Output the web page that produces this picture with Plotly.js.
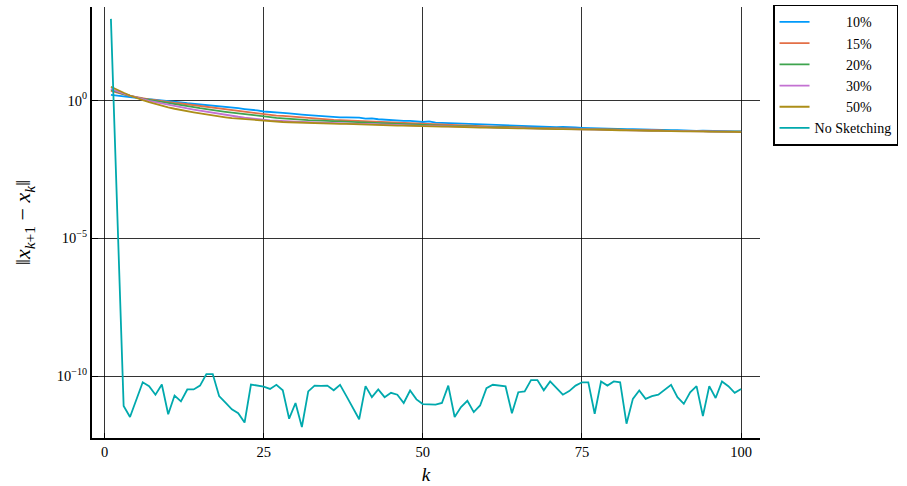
<!DOCTYPE html>
<html>
<head>
<meta charset="utf-8">
<script src="https://cdn.plot.ly/plotly-3.0.1.min.js"></script>
<style>body{margin:0;padding:0;background:#fff}</style>
</head>
<body>
<div id="chart" style="width:907px;height:486px"></div>
<script>
// iterations k = 1..100
const iterations = Array.from({length: 100}, (_, i) => i + 1);

// log10 of ||x_{k+1} - x_k||
const log10_sketch10 = [
 0.20,0.17,0.14,0.12,0.10,0.07,0.05,0.03,0.00,-0.03,
 -0.04,-0.07,-0.10,-0.12,-0.15,-0.16,-0.19,-0.22,-0.24,-0.26,
 -0.28,-0.31,-0.33,-0.36,-0.40,-0.41,-0.43,-0.45,-0.47,-0.50,
 -0.51,-0.53,-0.55,-0.57,-0.58,-0.60,-0.61,-0.61,-0.62,-0.62,
 -0.66,-0.65,-0.68,-0.70,-0.71,-0.72,-0.74,-0.74,-0.76,-0.78,
 -0.76,-0.80,-0.81,-0.82,-0.83,-0.83,-0.85,-0.86,-0.85,-0.88,
 -0.88,-0.90,-0.90,-0.92,-0.92,-0.93,-0.94,-0.95,-0.95,-0.96,
 -0.97,-0.96,-0.98,-0.98,-0.99,-1.00,-1.00,-1.01,-1.02,-1.03,
 -1.03,-1.04,-1.04,-1.05,-1.06,-1.06,-1.07,-1.07,-1.08,-1.08,
 -1.09,-1.09,-1.10,-1.09,-1.10,-1.11,-1.10,-1.11,-1.12,-1.12];

const log10_sketch15 = [
 0.35,0.28,0.22,0.17,0.12,0.08,0.04,0.01,-0.03,-0.06,
 -0.09,-0.11,-0.14,-0.17,-0.21,-0.23,-0.26,-0.29,-0.32,-0.36,
 -0.38,-0.41,-0.44,-0.47,-0.51,-0.53,-0.55,-0.56,-0.58,-0.60,
 -0.62,-0.64,-0.65,-0.67,-0.68,-0.70,-0.71,-0.72,-0.73,-0.74,
 -0.76,-0.77,-0.78,-0.79,-0.80,-0.82,-0.83,-0.84,-0.85,-0.86,
 -0.87,-0.88,-0.89,-0.89,-0.90,-0.91,-0.92,-0.92,-0.93,-0.94,
 -0.95,-0.95,-0.96,-0.97,-0.97,-0.98,-0.98,-0.99,-1.00,-1.00,
 -1.00,-1.01,-1.02,-1.02,-1.03,-1.03,-1.04,-1.05,-1.04,-1.05,
 -1.06,-1.06,-1.07,-1.07,-1.08,-1.08,-1.08,-1.09,-1.09,-1.10,
 -1.10,-1.10,-1.11,-1.11,-1.12,-1.12,-1.12,-1.13,-1.13,-1.13];

const log10_sketch20 = [
 0.39,0.30,0.23,0.17,0.11,0.06,0.02,-0.02,-0.06,-0.10,
 -0.14,-0.17,-0.21,-0.24,-0.28,-0.31,-0.35,-0.38,-0.41,-0.44,
 -0.47,-0.50,-0.53,-0.56,-0.59,-0.61,-0.63,-0.65,-0.67,-0.68,
 -0.70,-0.71,-0.72,-0.73,-0.75,-0.76,-0.77,-0.78,-0.79,-0.80,
 -0.81,-0.82,-0.83,-0.84,-0.85,-0.86,-0.87,-0.88,-0.88,-0.89,
 -0.90,-0.91,-0.91,-0.92,-0.93,-0.93,-0.94,-0.95,-0.95,-0.96,
 -0.96,-0.97,-0.98,-0.98,-0.99,-0.99,-1.00,-1.00,-1.01,-1.01,
 -1.02,-1.02,-1.03,-1.03,-1.04,-1.04,-1.05,-1.05,-1.06,-1.06,
 -1.06,-1.07,-1.07,-1.08,-1.08,-1.09,-1.09,-1.09,-1.10,-1.10,
 -1.10,-1.11,-1.11,-1.11,-1.12,-1.12,-1.12,-1.13,-1.13,-1.13];

const log10_sketch30 = [
 0.42,0.33,0.25,0.18,0.11,0.05,-0.01,-0.06,-0.11,-0.16,
 -0.21,-0.25,-0.29,-0.33,-0.37,-0.41,-0.45,-0.49,-0.53,-0.56,
 -0.59,-0.62,-0.65,-0.68,-0.70,-0.72,-0.73,-0.75,-0.76,-0.77,
 -0.78,-0.79,-0.80,-0.80,-0.81,-0.82,-0.82,-0.83,-0.84,-0.85,
 -0.85,-0.86,-0.87,-0.87,-0.88,-0.89,-0.90,-0.90,-0.91,-0.92,
 -0.92,-0.93,-0.93,-0.94,-0.94,-0.95,-0.96,-0.96,-0.97,-0.97,
 -0.98,-0.98,-0.99,-0.99,-1.00,-1.00,-1.01,-1.01,-1.02,-1.02,
 -1.03,-1.03,-1.04,-1.04,-1.05,-1.05,-1.06,-1.06,-1.06,-1.07,
 -1.07,-1.08,-1.08,-1.08,-1.09,-1.09,-1.10,-1.10,-1.10,-1.11,
 -1.11,-1.11,-1.12,-1.12,-1.12,-1.13,-1.13,-1.13,-1.14,-1.14];

const log10_sketch50 = [
 0.50,0.38,0.28,0.18,0.09,0.01,-0.06,-0.13,-0.19,-0.25,
 -0.30,-0.35,-0.39,-0.43,-0.47,-0.51,-0.55,-0.58,-0.61,-0.64,
 -0.66,-0.68,-0.70,-0.72,-0.74,-0.75,-0.77,-0.78,-0.79,-0.80,
 -0.81,-0.81,-0.82,-0.83,-0.83,-0.84,-0.85,-0.85,-0.86,-0.87,
 -0.87,-0.88,-0.89,-0.89,-0.90,-0.91,-0.91,-0.92,-0.93,-0.93,
 -0.94,-0.94,-0.95,-0.95,-0.96,-0.96,-0.97,-0.97,-0.98,-0.98,
 -0.99,-0.99,-1.00,-1.00,-1.01,-1.01,-1.02,-1.02,-1.03,-1.03,
 -1.04,-1.04,-1.05,-1.05,-1.06,-1.06,-1.06,-1.07,-1.07,-1.08,
 -1.08,-1.08,-1.09,-1.09,-1.10,-1.10,-1.10,-1.11,-1.11,-1.11,
 -1.12,-1.12,-1.12,-1.13,-1.13,-1.13,-1.14,-1.14,-1.14,-1.15];

const log10_noSketch = [
 2.96,-4.00,-11.08,-11.48,-10.85,-10.22,-10.36,-10.67,-10.30,-11.38,
 -10.70,-10.91,-10.48,-10.48,-10.34,-9.92,-9.92,-10.72,-10.96,-11.20,
 -11.34,-11.68,-10.30,-10.34,-10.38,-10.46,-10.31,-10.51,-11.54,-10.97,
 -11.84,-10.55,-10.34,-10.35,-10.34,-10.51,-10.31,-10.72,-11.12,-11.56,
 -10.36,-10.76,-10.48,-10.76,-10.60,-10.67,-10.97,-10.52,-10.84,-11.01,
 -11.02,-11.03,-10.97,-10.34,-11.48,-11.12,-10.89,-11.30,-11.06,-10.43,
 -10.31,-10.34,-10.37,-11.34,-10.58,-10.55,-10.14,-10.14,-10.51,-10.19,
 -10.43,-10.67,-10.54,-10.34,-10.22,-10.22,-11.36,-10.19,-10.34,-10.19,
 -10.22,-11.72,-10.82,-10.52,-10.82,-10.72,-10.67,-10.48,-10.31,-10.76,
 -11.00,-10.58,-10.36,-11.44,-10.36,-10.79,-10.19,-10.36,-10.60,-10.46];

const seriesNames = ['10%', '15%', '20%', '30%', '50%', 'No Sketching'];
const seriesLogs = [log10_sketch10, log10_sketch15, log10_sketch20, log10_sketch30, log10_sketch50, log10_noSketch];
const seriesColors = ['#009AFA', '#E36F47', '#3EA44E', '#C371D2', '#AC8E18', '#00A9AD'];

const yTickVals = [1, 1e-5, 1e-10];
const yTickText = ['10<sup>0</sup>', '10<sup>−5</sup>', '10<sup>−10</sup>'];
const xTickVals = [0, 25, 50, 75, 100];

const pad = '\u00A0'.repeat(9);
const traces = seriesNames.map((name, i) => ({
  x: iterations,
  y: seriesLogs[i].map(v => Math.pow(10, v)),
  type: 'scatter',
  mode: 'lines',
  name: i < 5 ? pad + name : name,
  line: {color: seriesColors[i], width: 1.8}
}));

const font = {family: 'Liberation Serif, DejaVu Serif, serif', color: '#000'};

const layout = {
  width: 907, height: 486,
  margin: {l: 92, r: 147, t: 5, b: 48},
  paper_bgcolor: '#fff', plot_bgcolor: '#fff',
  font: Object.assign({size: 14}, font),
  showlegend: true,
  legend: {
    x: 1.0195, y: 1.005, xanchor: 'left', yanchor: 'top',
    bordercolor: '#000', borderwidth: 1.5, bgcolor: '#fff',
    font: Object.assign({size: 14}, font),
    tracegroupgap: 0
  },
  xaxis: {
    range: [-1.97, 102.97],
    tickvals: xTickVals,
    ticktext: xTickVals.map(String),
    showgrid: true, gridcolor: 'rgba(0,0,0,0.8)', gridwidth: 1,
    zeroline: false,
    showline: true, linecolor: '#000', linewidth: 2,
    ticks: 'inside', ticklen: 5, tickcolor: '#000',
    tickfont: Object.assign({size: 14.5}, font),
    title: {text: '<i>k</i>', font: Object.assign({size: 19}, font), standoff: 8}
  },
  yaxis: {
    type: 'log',
    range: [-12.24, 3.39],
    tickvals: yTickVals,
    ticktext: yTickText,
    showgrid: true, gridcolor: 'rgba(0,0,0,0.8)', gridwidth: 1,
    zeroline: false,
    showline: true, linecolor: '#000', linewidth: 2,
    ticks: 'inside', ticklen: 6, tickcolor: '#000',
    tickfont: Object.assign({size: 14.5}, font),
    title: {text: '‖<i>x</i><sub><i>k</i>+1</sub>\u00A0−\u00A0<i>x</i><sub><i>k</i></sub>‖', font: Object.assign({size: 22}, font), standoff: 20}
  }
};

Plotly.newPlot('chart', traces, layout, {displayModeBar: false, staticPlot: true});
</script>
</body>
</html>
